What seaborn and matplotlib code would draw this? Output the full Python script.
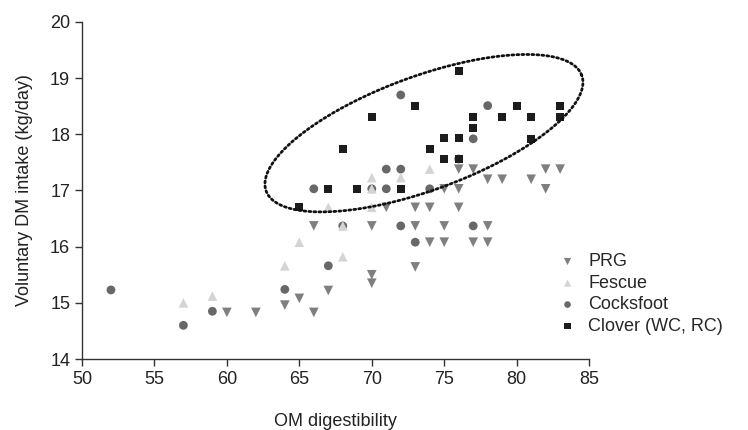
import numpy as np
import pandas as pd
import matplotlib
matplotlib.use("Agg")
import matplotlib.pyplot as plt
import seaborn as sns

# ---- data ----
prg_x = [60, 62, 64, 65, 66, 67, 70, 70, 73,
         66, 70, 73, 75, 78,
         71, 73, 74, 76,
         74, 75, 77, 78,
         75, 76, 82,
         78, 79, 81,
         76, 77, 82, 83]
prg_y = [14.83, 14.83, 14.96, 15.08, 14.83, 15.22, 15.50, 15.35, 15.64,
         16.37, 16.37, 16.37, 16.37, 16.37,
         16.70, 16.70, 16.70, 16.70,
         16.08, 16.08, 16.08, 16.08,
         17.03, 17.03, 17.03,
         17.20, 17.20, 17.20,
         17.38, 17.38, 17.38, 17.38]

fescue_x = [57, 59, 64, 65, 67, 68, 68, 70, 70, 70, 72, 74]
fescue_y = [15.00, 15.12, 15.66, 16.08, 16.70, 15.82, 16.37, 16.70, 17.03, 17.23, 17.23, 17.38]

cocks_x = [52, 57, 59, 64, 67, 66, 68, 70, 71, 71, 72, 72, 72, 73, 74, 76, 77, 77, 78]
cocks_y = [15.23, 14.60, 14.85, 15.24, 15.66, 17.03, 16.37, 17.03, 17.03, 17.38,
           17.38, 18.70, 16.37, 16.08, 17.03, 17.56, 17.92, 16.37, 18.51]

clover_x = [65, 67, 69, 72, 68, 70, 73, 74, 75, 75, 76, 76, 76, 77, 77, 79, 80, 81, 81, 83, 83]
clover_y = [16.70, 17.03, 17.03, 17.03, 17.74, 18.30, 18.50, 17.74, 17.93, 17.56, 17.93,
            17.56, 19.12, 18.30, 18.11, 18.30, 18.51, 18.30, 17.92, 18.51, 18.30]

groups = ["PRG", "Fescue", "Cocksfoot", "Clover (WC, RC)"]
x_ticks = [50, 55, 60, 65, 70, 75, 80, 85]
y_ticks = [14, 15, 16, 17, 18, 19, 20]

# ellipse annotation (data coordinates): centre and conjugate semi-axes
ell_center = (73.6, 18.02)
ell_a = (10.89, 1.03)
ell_b = (-1.35, 0.95)

df = pd.concat([
    pd.DataFrame({"x": prg_x, "y": prg_y, "g": groups[0]}),
    pd.DataFrame({"x": fescue_x, "y": fescue_y, "g": groups[1]}),
    pd.DataFrame({"x": cocks_x, "y": cocks_y, "g": groups[2]}),
    pd.DataFrame({"x": clover_x, "y": clover_y, "g": groups[3]}),
], ignore_index=True)

sns.set_theme(style="ticks")
plt.rcParams["font.family"] = ["Liberation Sans", "DejaVu Sans"]

fig = plt.figure(figsize=(7.48, 4.30), dpi=100)
ax = fig.add_axes([0.1096, 0.165, 0.678, 0.784])

colors = {groups[0]: "#7f7f7f", groups[1]: "#d4d4d4",
          groups[2]: "#686868", groups[3]: "#1c1c1c"}
markers = {groups[0]: "v", groups[1]: "^", groups[2]: "o", groups[3]: "s"}
sizes = {groups[0]: 48, groups[1]: 48, groups[2]: 40, groups[3]: 34}

draw_order = [groups[2], groups[1], groups[0], groups[3]]
for g in draw_order:
    sub = df[df["g"] == g]
    sns.scatterplot(data=sub, x="x", y="y", ax=ax, marker=markers[g],
                    color=colors[g], s=sizes[g], edgecolor="none",
                    linewidth=0, label=g, zorder=3)

# dotted ellipse
t = np.linspace(0, 2 * np.pi, 400)
ex = ell_center[0] + ell_a[0] * np.cos(t) + ell_b[0] * np.sin(t)
ey = ell_center[1] + ell_a[1] * np.cos(t) + ell_b[1] * np.sin(t)
ax.plot(ex, ey, color="#111111", lw=2.0, linestyle=(0, (0.7, 1.1)),
        dash_capstyle="round", zorder=4)

ax.set_xlim(50, 85)
ax.set_ylim(14, 20)
ax.set_xticks(x_ticks)
ax.set_yticks(y_ticks)
ax.set_xlabel("OM digestibility", fontsize=13, labelpad=18, color="#222222")
ax.set_ylabel("Voluntary DM intake (kg/day)", fontsize=13, labelpad=12, color="#222222")
ax.tick_params(axis="both", labelsize=13, length=5, width=1, colors="#333333",
               labelcolor="#222222", direction="out")
for s in ["top", "right"]:
    ax.spines[s].set_visible(False)
for s in ["left", "bottom"]:
    ax.spines[s].set_color("#333333")
    ax.spines[s].set_linewidth(1)

h, l = ax.get_legend_handles_labels()
hm = dict(zip(l, h))
ax.legend([hm[g] for g in groups], groups, loc="upper left",
          bbox_to_anchor=(0.737, 0.432), bbox_transform=fig.transFigure,
          frameon=False, fontsize=13, handlelength=0.8, handletextpad=0.75,
          labelspacing=0.25, borderpad=0, markerscale=0.75)

fig.savefig("out.png", dpi=100)
